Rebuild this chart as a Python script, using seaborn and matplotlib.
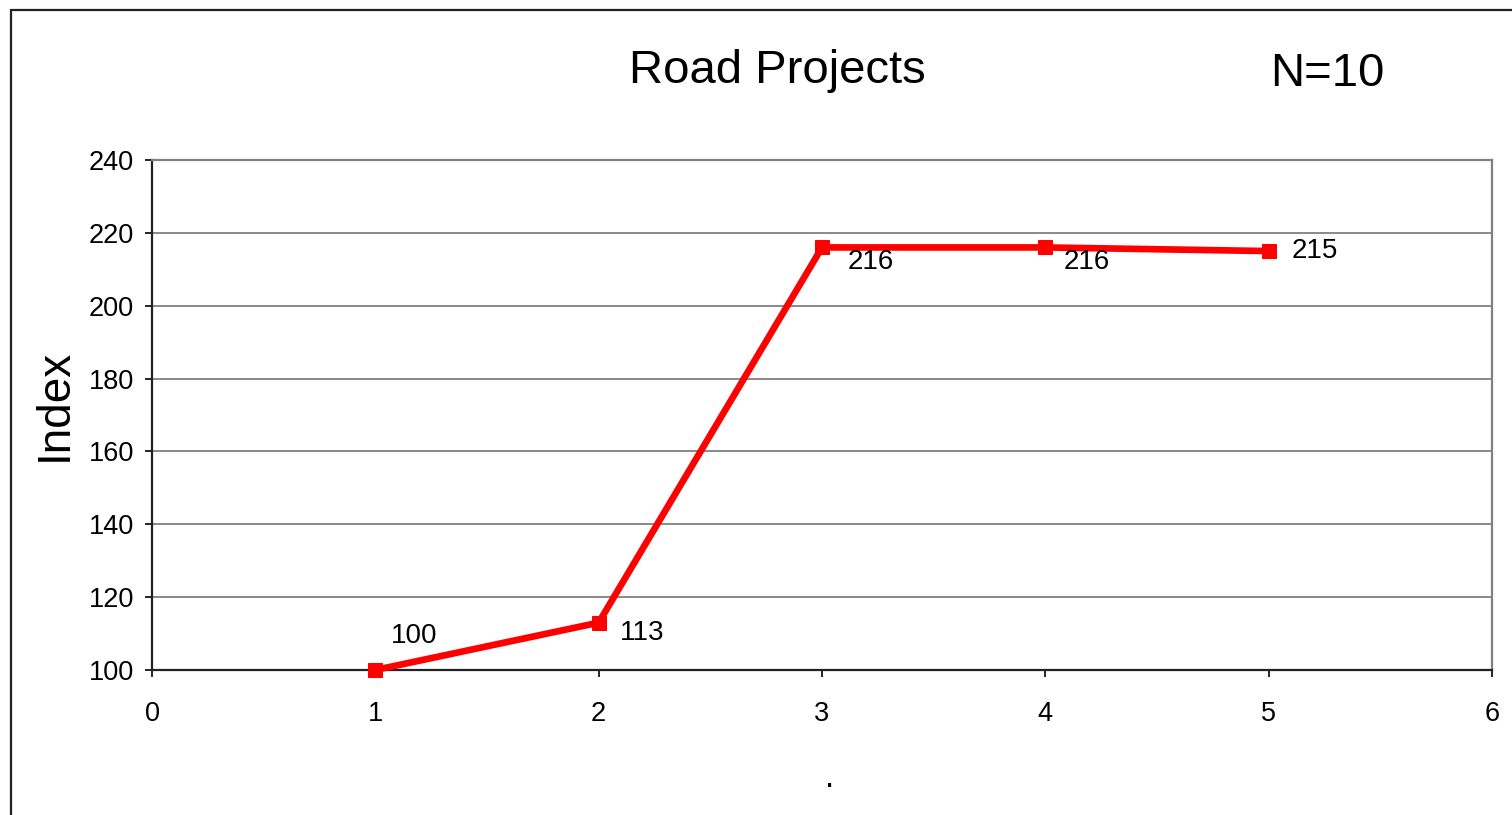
import matplotlib
matplotlib.use("Agg")
import matplotlib.pyplot as plt
import seaborn as sns
import pandas as pd
from matplotlib.patches import Rectangle

# Index values for the road projects sample
periods = [1, 2, 3, 4, 5]
index_values = [100, 113, 216, 216, 215]
y_ticks = [100, 120, 140, 160, 180, 200, 220, 240]
x_ticks = [0, 1, 2, 3, 4, 5, 6]
# label offsets in pixels (dx, dy) relative to each point
label_offsets = [(39, 34), (43, -10), (49, -15), (41, -15), (46, 0)]

sns.set_theme(style="white")
plt.rcParams["font.family"] = ["Liberation Sans", "DejaVu Sans"]

df = pd.DataFrame({"period": periods, "index": index_values})

W, H = 1512, 815
fig = plt.figure(figsize=(W / 100, H / 100), dpi=100)
fig.patch.set_facecolor("white")

# outer chart frame (runs off the right and bottom edges)
fig.patches.append(Rectangle((11 / W, -0.2), 1.2, 1.2 - 10 / H,
                             transform=fig.transFigure, fill=False,
                             edgecolor="#222222", linewidth=1.6))

ax = fig.add_axes([152 / W, 1 - 670 / H, 1340 / W, 510 / H])

for y in y_ticks[1:]:
    ax.axhline(y, color="#808080", linewidth=1.3, zorder=1)

sns.lineplot(data=df, x="period", y="index", ax=ax, color="#ff0000",
             linewidth=4.8, marker="s", markersize=10,
             markeredgecolor="#ff0000", zorder=5, clip_on=False)

for xv, yv, (dx, dy) in zip(periods, index_values, label_offsets):
    ax.annotate(f"{yv}", (xv, yv), xytext=(dx, dy), textcoords="offset pixels",
                ha="center", va="center", fontsize=20, color="black",
                zorder=6)

ax.set_xlim(0, 6)
ax.set_ylim(100, 240)
ax.set_xticks(x_ticks)
ax.set_yticks(y_ticks)
ax.tick_params(axis="both", labelsize=19.5, colors="black", direction="out",
               length=5, width=1.2, bottom=True, left=True,
               top=False, right=False)
ax.tick_params(axis="y", pad=8)
ax.tick_params(axis="x", pad=17)
ax.set_xlabel("")
ax.set_ylabel("")

for side in ["left", "bottom"]:
    ax.spines[side].set_color("#222222")
    ax.spines[side].set_linewidth(1.6)
for side in ["top", "right"]:
    ax.spines[side].set_color("#808080")
    ax.spines[side].set_linewidth(1.6)
ax.spines["bottom"].set_zorder(4)

fig.text(777 / W, 1 - 71 / H, "Road Projects", ha="center", va="center",
         fontsize=34, color="black")
fig.text(1327 / W, 1 - 74 / H, "N=10", ha="center", va="center",
         fontsize=34, color="black")
fig.text(55 / W, 1 - 405 / H, "Index", ha="center", va="center",
         rotation=90, fontsize=33, color="black")
fig.text(830 / W, 1 - 787 / H, ".", ha="center", va="baseline",
         fontsize=24, color="black")

fig.savefig("out.png", dpi=100, facecolor="white")
